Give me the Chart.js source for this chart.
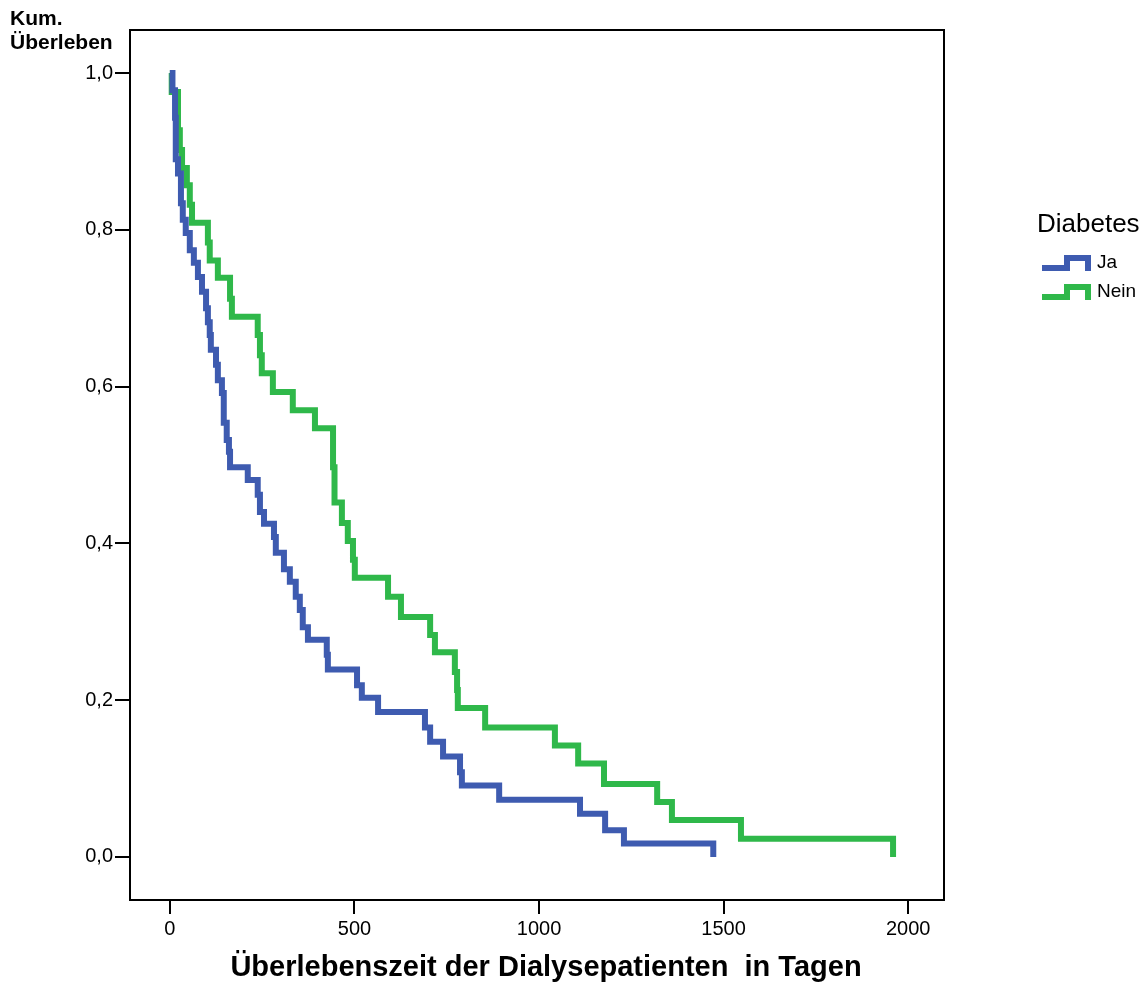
<!DOCTYPE html>
<html>
<head>
<meta charset="utf-8">
<title>Kaplan-Meier Dialysepatienten</title>
<script src="https://cdn.jsdelivr.net/npm/chart.js@4"></script>
<style>
  body { margin: 0; background: #fff; }
  #wrap { width: 1147px; height: 984px; }
</style>
</head>
<body>
<div id="wrap"><canvas id="kmChart" width="1147" height="984"></canvas></div>
<script>
// Kaplan-Meier Schätzung, Werte
const jaTage = [0, 7, 14, 16, 22, 30, 35, 43, 54, 65, 76, 87, 98, 103, 108, 111, 125, 130, 141, 146, 154, 160, 163,
  211, 238, 244, 255, 282, 287, 309, 325, 341, 352, 360, 374, 425, 428, 507, 520, 564, 691, 705, 740, 786, 791,
  892, 1111, 1179, 1230, 1472];
const jaUeberleben = [1.0, 0.978, 0.943, 0.890, 0.872, 0.834, 0.813, 0.796, 0.774, 0.758, 0.740, 0.721, 0.700, 0.682,
  0.666, 0.647, 0.628, 0.608, 0.592, 0.554, 0.532, 0.517, 0.497, 0.481, 0.462, 0.440, 0.425, 0.408, 0.388, 0.367,
  0.351, 0.332, 0.315, 0.293, 0.277, 0.258, 0.239, 0.219, 0.203, 0.185, 0.165, 0.147, 0.128, 0.108, 0.091, 0.073,
  0.055, 0.034, 0.017, 0.0];

const neinTage = [0, 5, 22, 27, 33, 46, 54, 60, 103, 108, 130, 163, 168, 238, 244, 249, 279, 333, 393, 442, 446,
  466, 482, 496, 501, 591, 626, 705, 718, 772, 778, 780, 854, 1043, 1106, 1176, 1320, 1360, 1547, 1959];
const neinUeberleben = [1.0, 0.976, 0.927, 0.902, 0.879, 0.857, 0.832, 0.809, 0.784, 0.761, 0.739, 0.712, 0.689,
  0.666, 0.640, 0.617, 0.593, 0.570, 0.547, 0.497, 0.452, 0.426, 0.403, 0.379, 0.356, 0.332, 0.306, 0.283, 0.261,
  0.236, 0.213, 0.190, 0.165, 0.142, 0.119, 0.093, 0.070, 0.047, 0.023, 0.0];

const gruppen = ['Ja', 'Nein'];
const xTicks = [0, 500, 1000, 1500, 2000];
const yTicks = [0.0, 0.2, 0.4, 0.6, 0.8, 1.0];

const blau = '#3e5bb0';
const gruen = '#2fb84a';
const schrift = '"Liberation Sans", Arial, sans-serif';

function toPoints(xs, ys) {
    return xs.map((x, i) => ({ x: x, y: ys[i] }));
}

// Rahmen, Legende, Achsentitel
const extrasPlugin = {
    id: 'extras',
    afterDraw(chart) {
        const ctx = chart.ctx;
        const a = chart.chartArea;
        ctx.save();
        ctx.strokeStyle = '#000';
        ctx.lineWidth = 2;
        ctx.strokeRect(a.left, a.top, a.right - a.left, a.bottom - a.top);

        ctx.fillStyle = '#000';
        ctx.textBaseline = 'middle';
        ctx.textAlign = 'left';
        ctx.font = 'bold 21px ' + schrift;
        ctx.fillText('Kum.', 10, 19);
        ctx.fillText('Überleben', 10, 43);

        // x-Titel sitzt im Original etwas rechts der Mitte
        ctx.textAlign = 'center';
        ctx.font = 'bold 29px ' + schrift;
        ctx.fillText('Überlebenszeit der Dialysepatienten  in Tagen', 546, 968);

        ctx.textAlign = 'left';
        ctx.font = '26px ' + schrift;
        ctx.fillText('Diabetes', 1037, 225);

        const farben = [blau, gruen];
        const zeilen = [263, 292];
        gruppen.forEach((name, i) => {
            const y = zeilen[i];
            ctx.strokeStyle = farben[i];
            ctx.lineWidth = 6;
            ctx.lineJoin = 'miter';
            ctx.beginPath();
            ctx.moveTo(1042, y + 5);
            ctx.lineTo(1067, y + 5);
            ctx.lineTo(1067, y - 5);
            ctx.lineTo(1088, y - 5);
            ctx.lineTo(1088, y + 8);
            ctx.stroke();
            ctx.fillStyle = '#000';
            ctx.font = '19px ' + schrift;
            ctx.fillText(name, 1097, y);
        });
        ctx.restore();
    }
};

const ctx = document.getElementById('kmChart');
new Chart(ctx, {
    type: 'line',
    data: {
        datasets: [
            {
                label: gruppen[0],
                data: toPoints(jaTage, jaUeberleben),
                borderColor: blau,
                borderWidth: 6,
                stepped: true,
                pointRadius: 0,
                borderJoinStyle: 'miter',
                fill: false
            },
            {
                label: gruppen[1],
                data: toPoints(neinTage, neinUeberleben),
                borderColor: gruen,
                borderWidth: 6,
                stepped: true,
                pointRadius: 0,
                borderJoinStyle: 'miter',
                fill: false
            }
        ]
    },
    options: {
        responsive: false,
        animation: false,
        layout: {
            padding: { top: 30, right: 203, bottom: 0, left: 0 }
        },
        plugins: {
            legend: { display: false },
            tooltip: { enabled: false }
        },
        scales: {
            x: {
                type: 'linear',
                min: -108,
                max: 2097,
                afterFit: function(scale) { scale.height = 84; },
                afterBuildTicks: function(scale) {
                    scale.ticks = xTicks.map(v => ({ value: v }));
                },
                grid: {
                    drawOnChartArea: false,
                    drawTicks: true,
                    tickLength: 14,
                    lineWidth: 2,
                    color: '#000'
                },
                border: { display: true, color: '#000', width: 2 },
                ticks: {
                    color: '#000',
                    padding: 3,
                    maxRotation: 0,
                    font: { family: schrift, size: 20 },
                    callback: function(value) { return String(value); }
                }
            },
            y: {
                type: 'linear',
                min: -0.055,
                max: 1.055,
                afterFit: function(scale) { scale.width = 130; },
                afterBuildTicks: function(scale) {
                    scale.ticks = yTicks.map(v => ({ value: v }));
                },
                grid: {
                    drawOnChartArea: false,
                    drawTicks: true,
                    tickLength: 15,
                    lineWidth: 2,
                    color: '#000'
                },
                border: { display: true, color: '#000', width: 2 },
                ticks: {
                    color: '#000',
                    padding: 2,
                    font: { family: schrift, size: 20 },
                    callback: function(value) {
                        return value.toFixed(1).replace('.', ',');
                    }
                }
            }
        }
    },
    plugins: [extrasPlugin]
});
</script>
</body>
</html>
